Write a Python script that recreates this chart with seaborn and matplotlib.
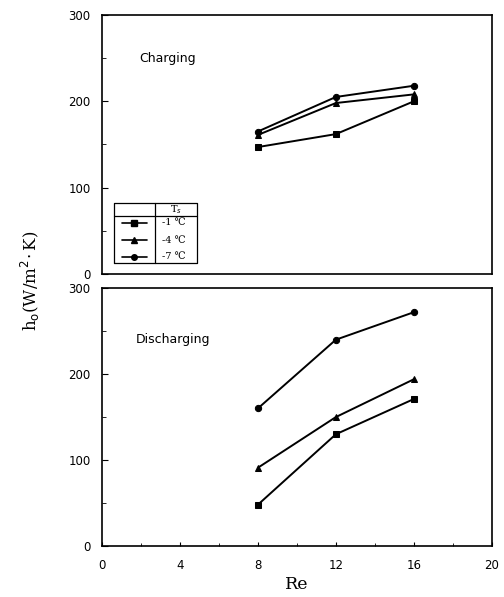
import numpy as np
import pandas as pd
import matplotlib
matplotlib.use("Agg")
import matplotlib.pyplot as plt
import seaborn as sns
from matplotlib.lines import Line2D

# Data
re_values = [8, 12, 16]
series_labels = ["-1 ℃", "-4 ℃", "-7 ℃"]
charging = {
    "-1 ℃": [147, 162, 200],
    "-4 ℃": [161, 198, 208],
    "-7 ℃": [165, 205, 218],
}
discharging = {
    "-1 ℃": [48, 130, 171],
    "-4 ℃": [91, 150, 194],
    "-7 ℃": [160, 240, 272],
}
markers = {"-1 ℃": "s", "-4 ℃": "^", "-7 ℃": "o"}


def to_frame(d):
    rows = []
    for lab in series_labels:
        for r, v in zip(re_values, d[lab]):
            rows.append({"Re": r, "h": v, "Ts": lab})
    return pd.DataFrame(rows)


sns.set_style("white")
plt.rcParams["font.family"] = ["DejaVu Sans"]
plt.rcParams["text.color"] = "black"
plt.rcParams["axes.labelcolor"] = "black"

fig = plt.figure(figsize=(5.04, 5.97), dpi=100)
ax1 = fig.add_axes([0.202, 0.541, 0.774, 0.434])
ax2 = fig.add_axes([0.202, 0.0854, 0.774, 0.432])

for ax, d in [(ax1, charging), (ax2, discharging)]:
    sns.lineplot(data=to_frame(d), x="Re", y="h", style="Ts", markers=markers,
                 dashes=False, color="black", linewidth=1.4, markersize=4.5,
                 markeredgecolor="black", ax=ax, legend=False)
    ax.set_xlim(0, 20)
    ax.set_ylim(0, 300)
    ax.set_yticks([0, 100, 200, 300])
    ax.set_yticks([50, 150, 250], minor=True)
    ax.set_xlabel("")
    ax.set_ylabel("")
    for s in ax.spines.values():
        s.set_color("black")
        s.set_linewidth(1.2)
    ax.tick_params(axis="y", which="both", direction="in", left=True,
                   labelsize=8.5, pad=8, colors="black")
    ax.tick_params(axis="y", which="major", length=4)
    ax.tick_params(axis="y", which="minor", length=3)

ax1.set_xticks([])
ax2.set_xticks([0, 4, 8, 12, 16, 20])
ax2.set_xticks([2, 6, 10, 14, 18], minor=True)
ax2.tick_params(axis="x", which="both", direction="in", bottom=True,
                labelsize=8.5, pad=9, colors="black")
ax2.tick_params(axis="x", which="major", length=3)
ax2.tick_params(axis="x", which="minor", length=2)

ax1.text(0.097, 0.83, "Charging", transform=ax1.transAxes, fontsize=9,
         va="center", ha="left", color="black")
ax2.text(0.087, 0.80, "Discharging", transform=ax2.transAxes, fontsize=9,
         va="center", ha="left", color="black")

ax2.set_xlabel("Re", family="DejaVu Serif", fontsize=12.5, labelpad=3,
               color="black")
fig.text(0.06, 0.53, r"h$_\mathrm{o}$(W/m$^2\!\cdot$K)", rotation=90,
         family="DejaVu Serif", fontsize=12, ha="center", va="center",
         color="black")

# Legend table drawn inside the top panel
tr = ax1.transAxes
x0, x1, xd = 0.031, 0.244, 0.136
y0, y1, yh = 0.042, 0.274, 0.224
kw = dict(transform=tr, color="black", linewidth=0.9, clip_on=False)
ax1.add_line(Line2D([x0, x1, x1, x0, x0], [y0, y0, y1, y1, y0], **kw))
ax1.add_line(Line2D([x0, x1], [yh, yh], **kw))
ax1.add_line(Line2D([xd, xd], [y0, y1], **kw))
ax1.text((xd + x1) / 2, (yh + y1) / 2, r"T$_s$", transform=tr,
         family="DejaVu Serif", fontsize=7, ha="center", va="center",
         color="black")
row_y = [0.197, 0.131, 0.066]
for lab, yy in zip(series_labels, row_y):
    ax1.add_line(Line2D([0.051, 0.115], [yy, yy], transform=tr,
                        color="black", linewidth=1.2))
    ax1.add_line(Line2D([0.083], [yy], transform=tr, marker=markers[lab],
                        color="black", markersize=4, linestyle="none"))
    ax1.text(0.155, yy, lab, transform=tr, family="DejaVu Serif",
             fontsize=7, ha="left", va="center", color="black")

fig.savefig("out.png", dpi=100)
